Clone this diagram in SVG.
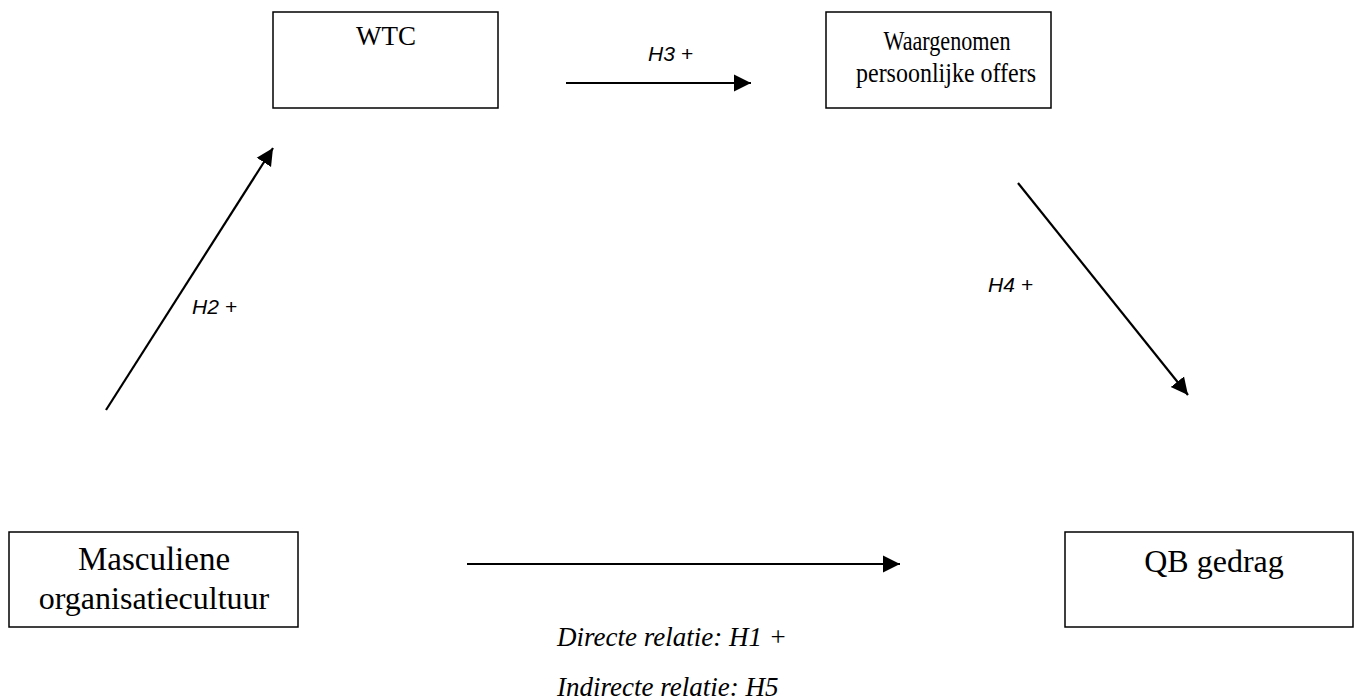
<svg xmlns="http://www.w3.org/2000/svg" width="1361" height="700" viewBox="0 0 1361 700">
<style>
.box{fill:#fff;stroke:#000;stroke-width:1.5}
.t{font-family:"Liberation Serif","Times New Roman",serif;fill:#000;text-anchor:middle}
.h{font-family:"Liberation Sans",Arial,sans-serif;font-style:italic;font-size:21px;fill:#000}
.r{font-family:"Liberation Serif","Times New Roman",serif;font-style:italic;font-size:27px;fill:#000}
.c{stroke:#000;stroke-width:2.2;fill:none;marker-end:url(#ah)}
</style>
<defs>
<marker id="ah" markerUnits="userSpaceOnUse" markerWidth="20" markerHeight="20" viewBox="0 0 20 20" refX="17" refY="10" orient="auto">
<path d="M0,1.5 L17,10 L0,18.5 Z" fill="#000"/>
</marker>
</defs>
<rect width="1361" height="700" fill="#fff"/>
<g id="node-wtc">
<rect class="box" x="273" y="12" width="225" height="96"/>
<text class="t" x="386" y="45" font-size="27">WTC</text>
</g>
<g id="node-offers">
<rect class="box" x="826" y="12" width="225" height="96"/>
<text class="t" x="947" y="50" font-size="27" textLength="127" lengthAdjust="spacingAndGlyphs">Waargenomen</text>
<text class="t" x="946" y="82" font-size="27" textLength="180" lengthAdjust="spacingAndGlyphs">persoonlijke offers</text>
</g>
<g id="node-masc">
<rect class="box" x="9" y="532" width="289" height="95"/>
<text class="t" x="154" y="570" font-size="33">Masculiene</text>
<text class="t" x="154" y="609" font-size="32">organisatiecultuur</text>
</g>
<g id="node-qb">
<rect class="box" x="1065" y="532" width="288" height="95"/>
<text class="t" x="1214" y="572" font-size="32">QB gedrag</text>
</g>
<g id="connectors">
<line class="c" x1="566" y1="83" x2="751" y2="83"/>
<line class="c" x1="106" y1="410" x2="273" y2="148"/>
<line class="c" x1="1018" y1="183" x2="1188" y2="395"/>
<line class="c" x1="467" y1="564" x2="900" y2="564"/>
</g>
<g id="labels">
<text class="h" x="648" y="61">H3 +</text>
<text class="h" x="192" y="314">H2 +</text>
<text class="h" x="988" y="292">H4 +</text>
<text class="r" x="557" y="646">Directe relatie: H1 +</text>
<text class="r" x="557" y="696">Indirecte relatie: H5</text>
</g>
</svg>
